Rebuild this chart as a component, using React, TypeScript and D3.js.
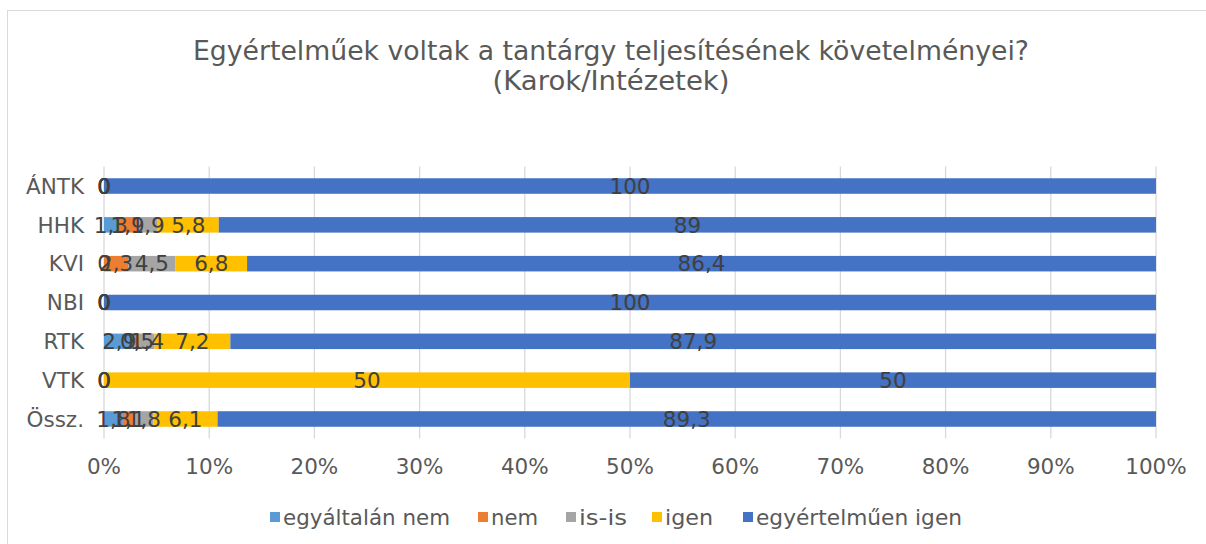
import React from "react";
import * as d3 from "d3";

const categories = ["ÁNTK", "HHK", "KVI", "NBI", "RTK", "VTK", "Össz."];
const seriesNames = ["egyáltalán nem", "nem", "is-is", "igen", "egyértelműen igen"];
const seriesColors = ["#5B9BD5", "#ED7D31", "#A5A5A5", "#FFC000", "#4472C4"];

const egyaltalanNem = [0, 1.3, 0, 0, 2.9, 0, 1.8];
const nem = [0, 1.9, 2.3, 0, 0.5, 0, 1.1];
const isIs = [0, 1.9, 4.5, 0, 1.4, 0, 1.8];
const igen = [0, 5.8, 6.8, 0, 7.2, 50, 6.1];
const egyertelmuenIgen = [100, 89, 86.4, 100, 87.9, 50, 89.3];

const seriesValues = [egyaltalanNem, nem, isIs, igen, egyertelmuenIgen];
const xTicks = [0, 0.1, 0.2, 0.3, 0.4, 0.5, 0.6, 0.7, 0.8, 0.9, 1];

const titleLines = [
  "Egyértelműek voltak a tantárgy teljesítésének követelményei?",
  "(Karok/Intézetek)",
];

const W = 1206;
const H = 544;
const FONT = "'DejaVu Sans', Verdana, sans-serif";
const FS = 21.5;

export default function App() {
  const x = d3.scaleLinear().domain([0, 1]).range([104, 1156]);
  const y = d3
    .scaleBand<string>()
    .domain(categories)
    .range([166.6, 438.4])
    .paddingInner(0.6)
    .paddingOuter(0.3);

  const rows = categories.map((cat, i) => {
    const vals = seriesValues.map((s) => s[i]);
    const total = d3.sum(vals);
    let acc = 0;
    return vals.map((v, k) => {
      const x0 = acc / total;
      acc += v;
      const x1 = acc / total;
      return { cat, k, v, x0, x1 };
    });
  });

  const fmt = (v: number) => String(v).replace(".", ",");
  const legendX = [270, 478, 566, 652, 743];
  const legendLen = [167, 47, 48, 48, 206];

  return (
    <svg width={W} height={H} style={{ display: "block", position: "absolute", left: 0, top: 0 }} fontFamily={FONT}>
      <rect x={0} y={0} width={W} height={H} fill="#fff" />
      <rect x={7.5} y={10.5} width={W + 20} height={H + 20} fill="none" stroke="#D9D9D9" />
      {/* title */}
      <text x={611} y={60} textAnchor="middle" fontSize={26} fill="#595959" textLength={836} lengthAdjust="spacingAndGlyphs">
        {titleLines[0]}
      </text>
      <text x={611} y={90} textAnchor="middle" fontSize={26} fill="#595959" textLength={237} lengthAdjust="spacingAndGlyphs">
        {titleLines[1]}
      </text>
      {/* gridlines */}
      {xTicks.map((t) => (
        <line key={t} x1={x(t)} x2={x(t)} y1={166.6} y2={438.4} stroke="#D9D9D9" strokeWidth={1.3} />
      ))}
      {/* tick labels */}
      {xTicks.map((t) => (
        <text key={"t" + t} x={x(t)} y={466} dy="0.36em" textAnchor="middle" fontSize={FS} fill="#595959">
          {Math.round(t * 100) + "%"}
        </text>
      ))}
      {/* category labels */}
      {categories.map((c) => (
        <text key={c} x={84} y={(y(c) as number) + y.bandwidth() / 2} dy="0.36em" textAnchor="end" fontSize={FS} fill="#595959">
          {c}
        </text>
      ))}
      {/* bars */}
      {rows.map((segs) =>
        segs.map((s) => (
          <rect
            key={s.cat + s.k}
            x={x(s.x0)}
            y={y(s.cat)}
            width={Math.max(0, x(s.x1) - x(s.x0))}
            height={y.bandwidth()}
            fill={seriesColors[s.k]}
          />
        ))
      )}
      {/* data labels */}
      {rows.map((segs) =>
        segs.map((s) => (
          <text
            key={"l" + s.cat + s.k}
            x={x((s.x0 + s.x1) / 2)}
            y={(y(s.cat) as number) + y.bandwidth() / 2}
            dy="0.36em"
            textAnchor="middle"
            fontSize={FS}
            fill="#404040"
          >
            {fmt(s.v)}
          </text>
        ))
      )}
      {/* legend */}
      {seriesNames.map((n, k) => (
        <g key={n}>
          <rect x={legendX[k]} y={512} width={10} height={10} fill={seriesColors[k]} />
          <text
            x={legendX[k] + 13}
            y={517}
            dy="0.36em"
            fontSize={FS}
            fill="#595959"
            textLength={legendLen[k]}
            lengthAdjust="spacingAndGlyphs"
          >
            {n}
          </text>
        </g>
      ))}
    </svg>
  );
}
